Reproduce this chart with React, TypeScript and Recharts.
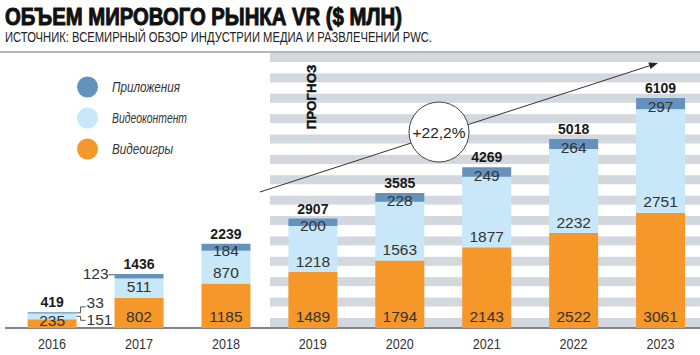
import React from 'react';
import { BarChart, Bar, XAxis, YAxis, LabelList } from 'recharts';

const years = ['2016', '2017', '2018', '2019', '2020', '2021', '2022', '2023'];
const games = [235, 802, 1185, 1489, 1794, 2143, 2522, 3061];
const video = [151, 511, 870, 1218, 1563, 1877, 2232, 2751];
const apps = [33, 123, 184, 200, 228, 249, 264, 297];
const totals = [419, 1436, 2239, 2907, 3585, 4269, 5018, 6109];

const series = [
  { key: 'apps', name: 'Приложения', color: '#6592bd' },
  { key: 'video', name: 'Видеоконтент', color: '#c8e7f8' },
  { key: 'games', name: 'Видеоигры', color: '#f6972a' },
];
const colorOf = (k: string) => series.find((s) => s.key === k)!.color;

const title = 'ОБЪЕМ МИРОВОГО РЫНКА VR ($ МЛН)';
const subtitle = 'ИСТОЧНИК: ВСЕМИРНЫЙ ОБЗОР ИНДУСТРИИ МЕДИА И РАЗВЛЕЧЕНИЙ PWC.';
const forecastLabel = 'ПРОГНОЗ';
const growthLabel = '+22,2%';

const data = years.map((y, i) => ({
  year: y,
  games: games[i],
  video: video[i],
  apps: apps[i],
  total: totals[i],
}));

const FONT = "'Liberation Sans', Arial, Helvetica, sans-serif";
const TXT = '#333';

function geo(p: any) {
  const vb = p.viewBox || {};
  return {
    x: Number(p.x ?? vb.x),
    y: Number(p.y ?? vb.y),
    w: Number(p.width ?? vb.width),
    h: Number(p.height ?? vb.height),
    i: Number(p.index),
    v: p.value,
  };
}

const GamesLabel = (p: any) => {
  const { x, y, w, h, i, v } = geo(p);
  return (
    <text x={x + w / 2} y={y + h - (i === 0 ? 8 : 12)} dy="0.36em" textAnchor="middle"
      fontSize={15.5} fill={TXT} fontFamily={FONT}>{v}</text>
  );
};

const VideoLabel = (p: any) => {
  const { x, y, w, h, i, v } = geo(p);
  if (i === 0) {
    const r = x + w;
    const my = y + h / 2;
    return (
      <g>
        <path d={`M${r},${my} H${r + 4} V${my + 4} H${r + 9}`} fill="none" stroke="#555" strokeWidth={1} />
        <text x={r + 10} y={319} dy="0.36em" textAnchor="start" fontSize={15.5} fill={TXT} fontFamily={FONT}>{v}</text>
      </g>
    );
  }
  return (
    <text x={x + w / 2} y={y + h - 11} dy="0.36em" textAnchor="middle"
      fontSize={15.5} fill={TXT} fontFamily={FONT}>{v}</text>
  );
};

const AppsLabel = (p: any) => {
  const { x, y, w, h, i, v } = geo(p);
  if (i === 0) {
    const r = x + w;
    const my = y + h / 2;
    return (
      <g>
        <path d={`M${r},${my} H${r + 4} V${my - 6} H${r + 9}`} fill="none" stroke="#555" strokeWidth={1} />
        <text x={r + 10} y={my - 10} dy="0.36em" textAnchor="start" fontSize={15.5} fill={TXT} fontFamily={FONT}>{v}</text>
      </g>
    );
  }
  if (i === 1) {
    const my = y + h / 2;
    return (
      <g>
        <line x1={x - 6} x2={x} y1={my - 1.5} y2={my - 1.5} stroke="#555" strokeWidth={1} />
        <text x={x - 6} y={my - 3} dy="0.36em" textAnchor="end" fontSize={15.5} fill={TXT} fontFamily={FONT}>{v}</text>
      </g>
    );
  }
  return (
    <text x={x + w / 2} y={y + h / 2 + 3} dy="0.36em" textAnchor="middle"
      fontSize={15.5} fill={TXT} fontFamily={FONT}>{v}</text>
  );
};

const TotalLabel = (p: any) => {
  const { x, y, w, v } = geo(p);
  return (
    <text x={x + w / 2} y={y - 10} dy="0.36em" textAnchor="middle"
      fontSize={14} fontWeight={700} fill="#1a1a1a" fontFamily={FONT}>{v}</text>
  );
};

const YearTick = (p: any) => {
  const { x, y, payload } = p;
  return (
    <text x={x} y={Number(y) + 20.5} textAnchor="middle" fontSize={15.5} fill={TXT} fontFamily={FONT}
      textLength={28} lengthAdjust="spacingAndGlyphs">{payload.value}</text>
  );
};

function Backdrop() {
  const stripes = [];
  for (let k = 0; k < 14; k++) {
    stripes.push(<rect key={k} x={270} y={53 + k * 20.38} width={430} height={9} fill="#d3d8de" />);
  }
  const x1 = 260, y1 = 192, x2 = 658, y2 = 63;
  const ang = Math.atan2(y2 - y1, x2 - x1);
  const L = 9, W = 3.5;
  const bx = x2 - L * Math.cos(ang), by = y2 - L * Math.sin(ang);
  const px = -Math.sin(ang) * W, py = Math.cos(ang) * W;
  return (
    <svg width={700} height={355} style={{ position: 'absolute', left: 0, top: 0 }}>
      <rect x={0} y={0} width={700} height={355} fill="#fff" />
      <text x={5} y={25} fontSize={24} fontWeight={700} fill="#111" stroke="#111" strokeWidth={1}
        fontFamily={FONT} textLength={397} lengthAdjust="spacingAndGlyphs">{title}</text>
      <text x={5} y={41.5} fontSize={14} fill="#222" fontFamily={FONT}
        textLength={427} lengthAdjust="spacingAndGlyphs">{subtitle}</text>
      <line x1={0} x2={700} y1={52} y2={52} stroke="#9c9c9c" strokeWidth={1.5} />
      {stripes}
      <line x1={5} x2={700} y1={328} y2={328} stroke="#5a5a5a" strokeWidth={1.6} />
      <line x1={x1} y1={y1} x2={bx} y2={by} stroke="#333" strokeWidth={1} />
      <polygon points={`${x2},${y2} ${bx + px},${by + py} ${bx - px},${by - py}`} fill="#222" />
      <circle cx={439} cy={132} r={30} fill="#fff" stroke="#444" strokeWidth={1} />
      <text x={439} y={132} dy="0.36em" textAnchor="middle" fontSize={15.5} fill="#222" fontFamily={FONT}>{growthLabel}</text>
      <text x={311.5} y={97} dy="0.36em" textAnchor="middle" fontSize={13} fontWeight={700} fill="#111"
        stroke="#111" strokeWidth={0.4}
        fontFamily={FONT} textLength={65} lengthAdjust="spacingAndGlyphs"
        transform="rotate(-90, 311.5, 97)">{forecastLabel}</text>
      {series.map((s, k) => (
        <g key={s.key}>
          <circle cx={87.5} cy={87 + k * 31} r={10.5} fill={s.color} />
          <text x={112} y={87 + k * 31} dy="0.36em" fontSize={14.5} fontStyle="italic" fill="#333"
            fontFamily={FONT} textLength={[68, 75, 61][k]} lengthAdjust="spacingAndGlyphs">{s.name}</text>
        </g>
      ))}
    </svg>
  );
}

export default function App() {
  return (
    <div style={{ position: 'absolute', left: 0, top: 0, width: 700, height: 355, overflow: 'hidden', background: '#fff' }}>
      <Backdrop />
      <div style={{ position: 'absolute', left: 0, top: 0 }}>
        <BarChart width={704} height={355} data={data} margin={{ top: 64.5, right: 0, left: 8.6, bottom: 0 }}
          barCategoryGap={0} barSize={49}>
          <XAxis dataKey="year" height={27} axisLine={false} tickLine={false} tickSize={0} tickMargin={0}
            tick={<YearTick />} interval={0} />
          <YAxis hide domain={[0, 7000]} />
          <Bar dataKey="games" stackId="a" fill={colorOf('games')} isAnimationActive={false}>
            <LabelList dataKey="games" content={<GamesLabel />} />
          </Bar>
          <Bar dataKey="video" stackId="a" fill={colorOf('video')} isAnimationActive={false}>
            <LabelList dataKey="video" content={<VideoLabel />} />
          </Bar>
          <Bar dataKey="apps" stackId="a" fill={colorOf('apps')} isAnimationActive={false}>
            <LabelList dataKey="apps" content={<AppsLabel />} />
            <LabelList dataKey="total" content={<TotalLabel />} />
          </Bar>
        </BarChart>
      </div>
    </div>
  );
}
